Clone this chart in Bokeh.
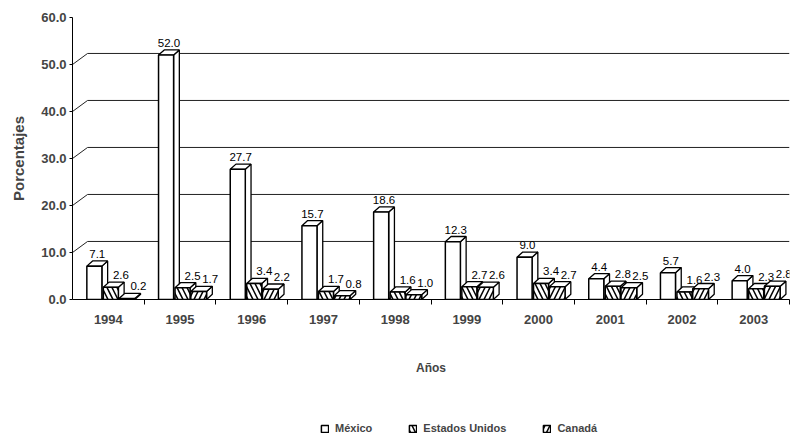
from bokeh.plotting import figure
from bokeh.layouts import column
from bokeh.models import Range1d, FixedTicker, Legend, LegendItem, PrintfTickFormatter, ColumnDataSource
from bokeh.embed import file_html
from bokeh.resources import INLINE
from bokeh.core.properties import value

years = ["1994", "1995", "1996", "1997", "1998", "1999", "2000", "2001", "2002", "2003"]
mexico = [7.1, 52.0, 27.7, 15.7, 18.6, 12.3, 9.0, 4.4, 5.7, 4.0]
estados_unidos = [2.6, 2.5, 3.4, 1.7, 1.6, 2.7, 3.4, 2.8, 1.6, 2.3]
canada = [0.2, 1.7, 2.2, 0.8, 1.0, 2.6, 2.7, 2.5, 2.3, 2.8]
series_names = ["México", "Estados Unidos", "Canadá"]
y_ticks = [0, 10, 20, 30, 40, 50, 60]
wall_grid = [10, 20, 30, 40, 50]

FONT = "Liberation Sans"
DX, DY = 0.08, 1.1        # bar depth (3D look)
WDX, WDY = 0.21, 2.35     # back wall offset

n = len(years)
xs = list(range(n))

p = figure(width=797, height=399, x_range=Range1d(-0.5, 9.5), y_range=Range1d(0, 60),
           output_backend="svg", toolbar_location=None, tools="",
           min_border_left=72, min_border_right=8, min_border_top=17, min_border_bottom=100)
p.outline_line_color = None
p.xgrid.visible = False
p.ygrid.visible = False

# back wall grid lines
p.segment(x0=[-0.5] * len(wall_grid), y0=wall_grid,
          x1=[-0.5 + WDX] * len(wall_grid), y1=[v + WDY for v in wall_grid],
          line_color="#222222", line_width=1)
p.segment(x0=[-0.5 + WDX] * len(wall_grid), y0=[v + WDY for v in wall_grid],
          x1=[9.5] * len(wall_grid), y1=[v + WDY for v in wall_grid],
          line_color="#222222", line_width=1)

HATCHES = [None, "\\", "/"]


def bar_style(k):
    kw = dict(fill_color="white", line_color="black", line_width=1.5)
    if HATCHES[k]:
        kw.update(hatch_pattern=HATCHES[k], hatch_color="black", hatch_scale=10, hatch_weight=1.5)
    return kw


def draw_series(vals, off, w, k, label_dx):
    lefts = [i + off for i in xs]
    rights = [l + w for l in lefts]
    side_xs = [[r, r + DX, r + DX, r] for r in rights]
    side_ys = [[0, DY, v + DY, v] for v in vals]
    top_xs = [[l, r, r + DX, l + DX] for l, r in zip(lefts, rights)]
    top_ys = [[v, v, v + DY, v + DY] for v in vals]
    p.patches(side_xs, side_ys, fill_color="white", line_color="black", line_width=1.3)
    p.patches(top_xs, top_ys, fill_color="white", line_color="black", line_width=1.3)
    p.quad(left=lefts, right=rights, bottom=[0] * n, top=vals, **bar_style(k))
    p.text(x=[(l + rr) / 2 + DX / 2 + label_dx for l, rr in zip(lefts, rights)],
           y=[v + DY for v in vals], text=[f"{v:.1f}" for v in vals],
           text_font=value(FONT), text_font_size="11.5px", text_align="center",
           text_baseline="bottom", y_offset=-3, text_color="black")


draw_series(mexico, -0.30, 0.21, 0, 0.0)
draw_series(estados_unidos, -0.07, 0.21, 1, 0.10)
draw_series(canada, 0.15, 0.22, 2, 0.12)

# axes
yax = p.yaxis[0]
yax.ticker = FixedTicker(ticks=y_ticks)
yax.formatter = PrintfTickFormatter(format="%.1f")
yax.axis_label = "Porcentajes"
yax.axis_label_text_font = FONT
yax.axis_label_text_font_size = "15px"
yax.axis_label_text_font_style = "bold"
yax.axis_label_standoff = 11
yax.major_label_text_font = FONT
yax.major_label_text_font_size = "13px"
yax.major_label_text_font_style = "bold"
yax.major_label_standoff = 3
yax.major_tick_out = 3
yax.major_tick_in = 0
yax.minor_tick_line_color = None
yax.axis_line_color = "black"

xax = p.xaxis[0]
xax.ticker = FixedTicker(ticks=xs, minor_ticks=[i + 0.5 for i in xs])
xax.major_label_overrides = {i: y for i, y in zip(xs, years)}
xax.major_tick_line_color = None
xax.minor_tick_out = 5
xax.minor_tick_in = 0
xax.minor_tick_line_color = "black"
xax.major_label_standoff = 9
xax.major_label_text_font = FONT
xax.major_label_text_font_size = "13px"
xax.major_label_text_font_style = "bold"
xax.axis_label = "Años"
xax.axis_label_text_font = FONT
xax.axis_label_text_font_size = "12px"
xax.axis_label_text_font_style = "bold"
xax.axis_label_standoff = 34
xax.axis_line_color = "black"

# legend strip (legend-only glyphs placed outside the visible range)
lf = figure(width=797, height=38, x_range=Range1d(0, 1), y_range=Range1d(0, 1),
            output_backend="svg", toolbar_location=None, tools="",
            min_border_left=0, min_border_right=0, min_border_top=0, min_border_bottom=0)
lf.axis.visible = False
lf.xgrid.visible = False
lf.ygrid.visible = False
lf.outline_line_color = None
items = []
for k, name in enumerate(series_names):
    src = ColumnDataSource(data=dict(left=[-3.0], right=[-2.0], bottom=[-3.0], top=[-2.0]))
    r = lf.quad(source=src, left="left", right="right", bottom="bottom", top="top", **bar_style(k))
    items.append(LegendItem(label=name, renderers=[r]))
legend = Legend(items=items, orientation="horizontal", location=(248, 2),
                label_text_font=FONT, label_text_font_size="11px", label_text_font_style="bold",
                glyph_width=9, glyph_height=9, spacing=36, padding=0, margin=0,
                label_height=14, border_line_color=None, background_fill_alpha=0,
                label_standoff=6)
lf.add_layout(legend)

open("out.html", "w").write(file_html(column(p, lf), INLINE))
